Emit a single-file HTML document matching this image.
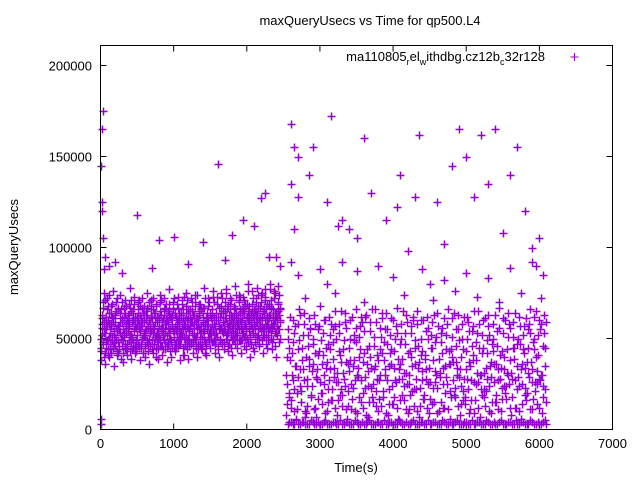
<!DOCTYPE html>
<html><head><meta charset="utf-8"><style>
html,body{margin:0;padding:0;background:#fff;}
svg{display:block;font-family:"Liberation Sans",sans-serif;}
</style></head><body>
<svg id="chart" width="640" height="480" viewBox="0 0 640 480">
<rect x="0" y="0" width="640" height="480" fill="#fff"/>
<text x="370" y="25" text-anchor="middle" font-size="13">maxQueryUsecs vs Time for qp500.L4</text>
<text transform="translate(18,247) rotate(-90)" text-anchor="middle" font-size="13">maxQueryUsecs</text>
<text x="356" y="472" text-anchor="middle" font-size="13">Time(s)</text>
<g id="axes"></g>
<g id="marks"></g>
<g>
<text x="545" y="61" text-anchor="end" font-size="13">ma110805<tspan font-size="9" dy="4">r</tspan><tspan dy="-4">el</tspan><tspan font-size="9" dy="4">w</tspan><tspan dy="-4">ithdbg.cz12b</tspan><tspan font-size="9" dy="4">c</tspan><tspan dy="-4">32r128</tspan></text>
<path d="M570.5 57H578.5M574.5 53V61" stroke="#9400d3" stroke-width="1"/>
</g>
<rect x="100.5" y="45.5" width="512" height="384" fill="none" stroke="#000" stroke-width="1"/>
</svg>
<script>
const xTicks=[0,1000,2000,3000,4000,5000,6000,7000];
const yTicks=[0,50000,100000,150000,200000];
const leftTimes=[30,90,150,210,270,330,390,450,510,570,630,690,750,810,870,930,990,1050,1110,1170,1230,1290,1350,1410,1470,1530,1590,1650,1710,1770,1830,1890,1950,2010,2070,2130,2190,2250,2310,2370,2430];
const leftValues=[
[38,45,52,58,63,70,48,55,75,42],[36,47,55,60,66,72,50,41,58,64],[40,44,53,57,68,62,49,76,46,59],[35,48,51,61,65,70,43,56,54,67],
[42,46,55,59,64,74,50,39,61,52],[37,49,53,62,67,71,45,57,44,60],[41,47,56,58,69,63,52,78,48,65],[39,44,50,60,66,73,54,46,57,62],
[43,48,52,61,64,70,47,58,55,68],[38,45,57,59,67,72,51,42,63,53],[40,46,54,63,65,75,49,56,47,60],[36,50,53,58,68,71,44,61,57,66],
[42,47,55,62,64,69,52,40,59,50],[39,49,51,60,70,74,46,56,63,54],[41,44,56,61,66,72,53,48,58,67],[37,46,52,59,65,77,50,43,62,55],
[40,48,57,63,67,70,45,54,51,64],[43,45,54,58,69,73,49,60,56,47],[38,50,53,61,64,71,52,41,66,58],[41,47,56,60,68,75,44,57,50,62],
[39,46,55,62,66,72,48,53,59,65],[42,49,52,59,70,74,51,45,61,56],[40,44,58,63,65,69,47,55,67,53],[44,48,54,60,67,78,50,42,57,62],
[41,46,57,61,68,72,53,49,64,55],[45,50,55,63,66,76,48,58,52,70],[42,47,53,60,69,73,51,44,62,57],[40,49,56,64,67,75,54,47,59,65],
[44,48,55,61,70,77,50,58,53,68],[43,46,58,63,66,72,52,45,60,56],[41,50,54,62,68,79,47,57,64,52],[45,47,57,60,71,74,55,49,63,59],
[42,49,53,65,67,73,51,46,58,69],[44,46,56,61,69,80,48,60,54,63],[40,50,58,63,66,76,53,45,62,57],[43,48,55,64,70,78,50,59,52,67],
[46,47,57,62,68,74,54,49,61,65],[42,51,56,66,71,77,52,47,60,58],[45,49,54,63,69,80,55,58,50,67],[44,48,58,61,72,76,53,46,64,62],
[40,52,57,65,70,79,55,48,60,66]];
const leftValues2=[
[50,43,61,56,47,67,53,40,59,71],[53,45,62,49,57,68,44,60,51,74],[47,55,64,42,58,51,69,45,61,54],[52,46,59,63,49,56,72,41,66,57],
[48,57,44,61,53,66,50,70,46,59],[55,42,60,51,64,47,58,68,53,45],[46,54,63,49,57,61,43,67,52,71],[51,59,45,64,48,55,69,42,60,56],
[49,44,58,52,66,60,46,71,55,63],[54,61,47,57,50,64,42,68,59,52],[45,52,60,55,63,48,67,57,43,70],[50,58,46,62,54,66,49,61,72,53],
[47,56,64,51,59,45,68,53,62,44],[53,48,61,57,65,50,71,46,59,55],[46,55,52,63,49,67,58,44,61,69],[52,60,47,56,64,53,69,50,43,62],
[49,45,58,61,54,66,51,72,57,47],[55,62,48,53,60,46,67,59,64,51],[47,53,63,50,57,69,45,61,55,73],[51,58,46,64,52,60,71,48,66,56],
[54,49,61,57,65,47,59,70,53,63],[48,56,52,63,50,68,58,46,61,74],[53,60,47,55,64,51,69,57,45,66],[50,46,59,62,54,67,48,72,58,61],
[47,55,64,51,60,57,70,49,63,53],[52,61,48,58,66,54,73,50,62,57],[49,57,53,64,51,69,46,60,67,55],[55,50,62,56,68,48,72,59,53,64],
[48,58,54,65,52,61,75,50,66,57],[53,47,60,57,69,55,63,71,49,62],[51,59,56,64,50,67,53,74,61,58],[56,52,63,58,70,49,66,60,73,55],
[49,61,55,66,53,71,58,64,51,68],[54,57,62,50,65,60,76,55,68,52],[51,47,59,64,56,69,53,72,61,66],[57,53,65,59,72,51,63,68,55,74],
[50,60,56,67,54,70,58,62,75,52],[55,52,64,60,73,57,66,51,69,62],[52,58,61,55,68,63,77,54,71,57],[56,50,66,62,58,72,60,75,53,64],
[53,61,57,69,55,74,63,50,67,59]];
const rightTimes=[2560,2630,2700,2770,2840,2910,2980,3050,3120,3190,3260,3330,3400,3470,3540,3610,3680,3750,3820,3890,3960,4030,4100,4170,4240,4310,4380,4450,4520,4590,4660,4730,4800,4870,4940,5010,5080,5150,5220,5290,5360,5430,5500,5570,5640,5710,5780,5850,5920,5990,6060];
const rightValues=[
[8,25,40,55,18,62],[12,30,48,60,22,35],[6,20,44,58,66,33],[15,38,52,27,64,10],[9,24,46,61,35,55],
[18,32,50,63,12,42],[7,28,41,57,68,20],[14,36,53,25,60,45],[10,22,47,62,33,16],[16,39,55,29,65,50],
[8,26,43,58,19,37],[13,31,49,64,24,56],[6,21,45,60,38,11],[17,35,52,27,66,48],[9,29,40,57,15,62],
[12,37,54,23,63,44],[7,24,46,59,34,18],[15,33,51,66,21,41],[10,27,44,56,13,61],[18,38,55,30,64,47],
[8,22,42,61,36,14],[14,34,50,26,67,53],[6,28,47,58,19,39],[16,31,53,63,25,9],[11,25,43,57,35,60],
[13,36,49,22,65,46],[7,23,41,60,32,17],[17,39,54,28,62,50],[9,26,45,59,14,38],[15,32,51,64,23,57],
[10,29,48,56,34,12],[12,35,52,25,66,43],[6,21,44,61,37,19],[18,37,55,30,63,49],[8,24,40,58,16,28],
[14,33,50,62,22,54],[11,27,46,57,38,9],[16,38,53,26,65,45],[7,22,42,60,31,18],[13,34,49,63,24,52],
[9,29,47,58,36,15],[15,36,54,27,67,41],[10,23,43,61,33,20],[17,31,51,64,25,56],[8,28,45,59,39,12],
[12,35,50,24,62,47],[6,25,44,57,34,19],[16,37,55,29,66,53],[11,26,48,62,21,40],[14,32,52,60,27,58],
[9,24,46,63,35,15]];
const rightValues2=[
[30,14,50,45,20,38],[16,42,27,53,10,57],[35,11,29,49,24,63],[21,45,33,58,7,40],[28,13,52,39,56,19],
[24,47,36,11,58,29],[33,17,55,43,26,49],[20,41,30,60,9,34],[37,15,27,52,44,58],[22,48,34,12,57,26],
[31,16,53,41,22,65],[19,44,28,59,11,37],[36,13,32,50,25,62],[23,49,38,10,56,30],[34,18,51,44,27,59],
[20,42,29,62,8,36],[32,15,54,40,23,66],[25,46,35,13,59,28],[38,17,30,51,42,64],[21,48,33,9,55,27],
[35,14,52,44,24,60],[18,43,27,57,12,39],[33,16,36,50,28,65],[24,47,31,11,59,42],[30,19,53,40,21,62],
[22,45,28,58,10,34],[37,13,50,43,27,60],[19,41,33,12,56,25],[34,17,52,45,23,63],[26,48,30,9,57,39],
[31,15,53,42,25,61],[20,44,29,58,11,36],[36,18,51,40,27,64],[23,46,34,13,55,29],[33,14,50,44,21,62],
[18,43,28,59,9,37],[35,16,54,41,26,65],[25,48,31,12,58,30],[30,19,52,45,22,61],[21,42,28,57,10,35],
[37,15,50,43,26,63],[19,46,33,11,56,28],[34,17,53,40,24,60],[24,44,30,58,12,38],[31,18,51,45,27,64],
[22,47,29,10,57,33],[36,14,52,42,23,61],[20,45,31,58,11,37],[33,17,50,44,26,65],[25,41,28,12,55,30],
[30,18,53,45,22,59]];
const floorTimes=[2560,2600,2650,2700,2750,2800,2850,2900,2950,3000,3050,3100,3150,3200,3250,3300,3350,3400,3450,3500,3550,3600,3650,3700,3750,3800,3850,3900,3950,4000,4050,4100,4150,4200,4250,4300,4350,4400,4450,4500,4550,4600,4650,4700,4750,4800,4850,4900,4950,5000,5050,5100,5150,5200,5250,5300,5350,5400,5450,5500,5550,5600,5650,5700,5750,5800,5850,5900,5950,6000,6050,6090,5,10];
const floorValues=[3,4,3,3,4,3,3,4,3,3,4,3,3,4,3,3,4,3,3,4,3,3,4,3,3,4,3,3,4,3,3,4,3,3,4,3,3,4,3,3,4,3,3,4,3,3,4,3,3,4,3,3,4,3,3,4,3,3,4,3,3,4,3,3,4,3,3,4,3,3,4,3,3,6];
const floorTimes2=[2575,2625,2675,2725,2775,2825,2875,2925,2975,3025,3075,3125,3175,3225,3275,3325,3375,3425,3475,3525,3575,3625,3675,3725,3775,3825,3875,3925,3975,4025,4075,4125,4175,4225,4275,4325,4375,4425,4475,4525,4575,4625,4675,4725,4775,4825,4875,4925,4975,5025,5075,5125,5175,5225,5275,5325,5375,5425,5475,5525,5575,5625,5675,5725,5775,5825,5875,5925,5975,6025,6075];
const floorValues2=[4,3,5,3,4,3,5,3,4,3,5,3,4,3,5,3,4,3,5,3,4,3,5,3,4,3,5,3,4,3,5,3,4,3,5,3,4,3,5,3,4,3,5,3,4,3,5,3,4,3,5,3,4,3,5,3,4,3,5,3,4,3,5,3,4,3,5,3,4,3,5];
const outlierTimes=[15,20,30,10,40,60,200,500,800,1000,1400,1600,1800,1950,2100,2200,2250,2400,2600,2650,2700,2600,2700,2900,3100,3150,3300,3400,3600,3700,3900,4100,4350,4600,4800,4900,5100,5200,5300,5400,5700,5600,5800,6000,5900,2850,3250,4050,4300,5000,2650,3500,4200,4700,5500,6050,5950,2700,3000,3300,3500,3800,4000,4400,4700,5000,5300,5600,5900,2600,3100,4500,20,50,120,300,700,1200,1700,2300,2450,2800,3200,3600,4150,4550,4850,5150,5450,5750,6020];
const outlierValues=[125,165,175,145,105,95,92,118,104,106,103,146,107,115,112,127,130,95,168,155,150,135,128,155,125,172,115,110,160,130,115,140,162,125,145,165,128,162,135,165,155,140,120,105,100,140,112,122,128,150,110,105,98,102,108,85,90,85,88,92,87,90,84,88,82,86,83,89,92,92,80,80,120,88,90,86,89,91,93,95,90,72,75,70,74,71,76,73,70,75,72];

const X0=100.5,XPX=512/7000,Y0=429.5,YPX=364/200000;
const sx=t=>X0+t*XPX, sy=v=>Y0-v*YPX;
const NS='http://www.w3.org/2000/svg';
const axes=document.getElementById('axes'), marks=document.getElementById('marks');
xTicks.forEach(t=>{
 const x=sx(t);
 const p=document.createElementNS(NS,'path');
 p.setAttribute('d',`M${x} 429.5V423.5M${x} 45.5V51.5`);p.setAttribute('stroke','#000');
 
 
 axes.appendChild(p);
 const tx=document.createElementNS(NS,'text');
 tx.setAttribute('x',x);tx.setAttribute('y',448);tx.setAttribute('text-anchor','middle');tx.setAttribute('font-size','13');
 tx.textContent=t;
 
 
 axes.appendChild(tx);
});
yTicks.forEach(v=>{
 const y=sy(v);
 const p=document.createElementNS(NS,'path');
 p.setAttribute('d',`M100.5 ${y}H106.5M612.5 ${y}H606.5`);p.setAttribute('stroke','#000');
 
 
 axes.appendChild(p);
 const tx=document.createElementNS(NS,'text');
 tx.setAttribute('x',92);tx.setAttribute('y',y+5);tx.setAttribute('text-anchor','end');tx.setAttribute('font-size','13');
 tx.textContent=v;
 
 
 axes.appendChild(tx);
});
let d='';
function add(t,k){const x=Math.round(sx(t))+0.5,y=Math.round(sy(k*1000))+0.5;d+=`M${x-4} ${y}h8M${x} ${y-4}v8`;}
leftTimes.forEach((t,i)=>leftValues[i].forEach((v,j)=>add(t+(j*6-27),v)));
leftTimes.forEach((t,i)=>leftValues2[i].forEach((v,j)=>add(t+(j*6-24),v)));
rightTimes.forEach((t,i)=>rightValues[i].forEach((v,j)=>add(t+(j*11-27),v)));
rightTimes.forEach((t,i)=>rightValues2[i].forEach((v,j)=>add(t+(j*11-22),v)));
floorTimes.forEach((t,i)=>add(t,floorValues[i]));
floorTimes2.forEach((t,i)=>add(t,floorValues2[i]));
outlierTimes.forEach((t,i)=>add(t,outlierValues[i]));
const mp=document.createElementNS(NS,'path');
mp.setAttribute('d',d);mp.setAttribute('stroke','#9400d3');mp.setAttribute('stroke-width','1.5');mp.setAttribute('fill','none');


marks.appendChild(mp);
</script>
</body></html>
